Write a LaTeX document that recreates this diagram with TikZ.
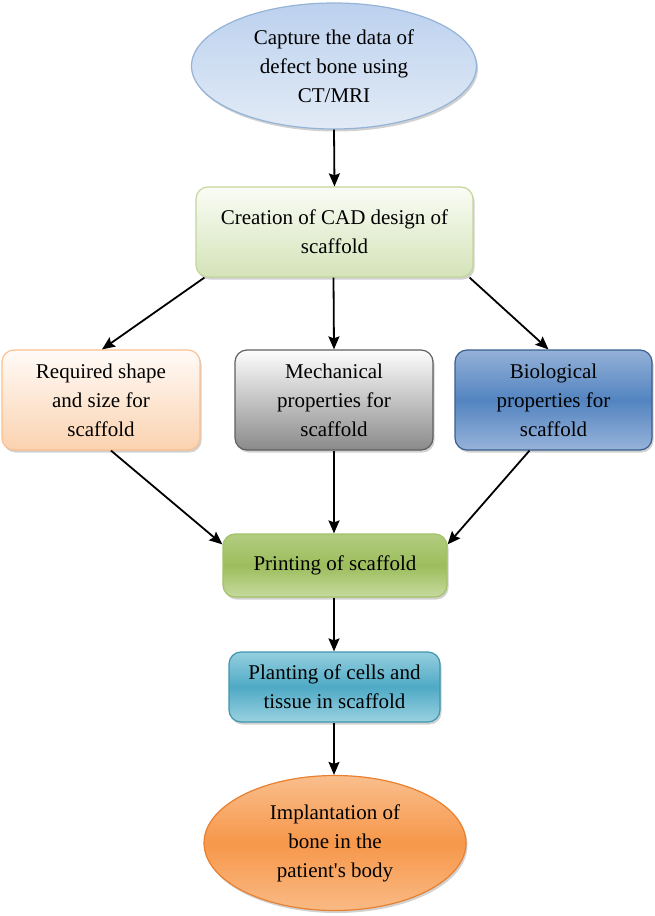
\documentclass[tikz,border=0pt]{standalone}
\usepackage{fontspec}
\setmainfont{Liberation Serif}[Ligatures=TeXOff]
\usetikzlibrary{shapes.geometric,arrows.meta,shadows,calc}
\definecolor{elbTop}{HTML}{BCD1EE}
\definecolor{elbBot}{HTML}{E2EBF6}
\definecolor{elbBd}{HTML}{95B3D7}
\definecolor{cadTop}{HTML}{FAFCF5}
\definecolor{cadBot}{HTML}{D4E3B8}
\definecolor{cadBd}{HTML}{C3D69B}
\definecolor{reqTop}{HTML}{FFFBF8}
\definecolor{reqBot}{HTML}{FBD2AF}
\definecolor{reqBd}{HTML}{FAC090}
\definecolor{mecTop}{HTML}{FDFDFD}
\definecolor{mecBot}{HTML}{8A8A8A}
\definecolor{mecBd}{HTML}{5F5F5F}
\definecolor{bioTop}{HTML}{94B1D8}
\definecolor{bioMid}{HTML}{5384C0}
\definecolor{bioBot}{HTML}{97B3DA}
\definecolor{bioBd}{HTML}{3A5F8E}
\definecolor{prTop}{HTML}{B2CD80}
\definecolor{prMid}{HTML}{9DBD5C}
\definecolor{prBot}{HTML}{C6DA9E}
\definecolor{prBd}{HTML}{A3C266}
\definecolor{plTop}{HTML}{95CFDF}
\definecolor{plMid}{HTML}{4FAAC5}
\definecolor{plBot}{HTML}{9AD1E0}
\definecolor{plBd}{HTML}{3F95AE}
\definecolor{orTop}{HTML}{F9BE8C}
\definecolor{orMid}{HTML}{F7974A}
\definecolor{orBot}{HTML}{F9BA85}
\definecolor{orBd}{HTML}{E8802F}
\tikzset{
  txt/.style={font=\fontsize{21}{29}\selectfont, align=center, text=black, inner sep=0pt},
  shad/.style={drop shadow={shadow xshift=1.5pt, shadow yshift=-2.5pt, opacity=0.3, fill=black!60}},
  rbox/.style={txt, shad, rectangle, rounded corners=12pt, line width=1.2pt},
  ebox/.style={txt, shad, ellipse, line width=1.2pt},
  arr/.style={line width=1.8pt, -{Stealth[length=13pt,width=11pt,inset=2pt]}}
}
\begin{document}
\begin{tikzpicture}[x=1pt,y=-1pt]
\useasboundingbox (0,0) rectangle (654,916);
\node[ebox, draw=elbBd, top color=elbTop, bottom color=elbBot, minimum width=285pt, minimum height=126pt] (cap) at (334,66) {Capture the data of\\defect bone using\\CT/MRI};
\node[rbox, draw=cadBd, top color=cadTop, bottom color=cadBot, minimum width=277pt, minimum height=90pt] (cad) at (334.5,232) {Creation of CAD design of\\scaffold};
\node[rbox, draw=reqBd, top color=reqTop, bottom color=reqBot, minimum width=198pt, minimum height=100pt] (req) at (101,400) {Required shape\\and size for\\scaffold};
\node[rbox, draw=mecBd, top color=mecTop, bottom color=mecBot, minimum width=198pt, minimum height=100pt] (mec) at (334,400) {Mechanical\\properties for\\scaffold};
\node[rbox, draw=bioBd, top color=bioTop, bottom color=bioBot, middle color=bioMid, minimum width=197pt, minimum height=100pt] (bio) at (553.5,400) {Biological\\properties for\\scaffold};
\node[rbox, draw=prBd, top color=prTop, bottom color=prBot, middle color=prMid, minimum width=224pt, minimum height=63pt] (pri) at (335,565.5) {Printing of scaffold};
\node[rbox, draw=plBd, top color=plTop, bottom color=plBot, middle color=plMid, minimum width=211pt, minimum height=70pt] (pla) at (334.5,687) {Planting of cells and\\tissue in scaffold};
\node[ebox, draw=orBd, top color=orTop, bottom color=orBot, middle color=orMid, minimum width=262pt, minimum height=135pt] (imp) at (335,843) {Implantation of\\bone in the\\patient's body};
\draw[arr] (cap.south) -- (cad.north);
\draw[arr] ($(cad.south west)+(9,0)$) -- ($(req.north)+(1,0)$);
\draw[arr] ($(cad.south)+(-1,0)$) -- ($(mec.north)$);
\draw[arr] ($(cad.south east)+(-4,0)$) -- ($(bio.north)+(-5,0)$);
\draw[arr] ($(req.south)+(10,0)$) -- ($(pri.north west)+(0,11)$);
\draw[arr] (mec.south) -- ($(pri.north)+(-1,0)$);
\draw[arr] ($(bio.south)+(-24,0)$) -- ($(pri.north east)+(0,11)$);
\draw[arr] ($(pri.south)+(-1,0)$) -- ($(pla.north)+(-0.5,0)$);
\draw[arr] ($(pla.south)+(-0.5,0)$) -- ($(imp.north)+(-1,0)$);
\end{tikzpicture}
\end{document}
